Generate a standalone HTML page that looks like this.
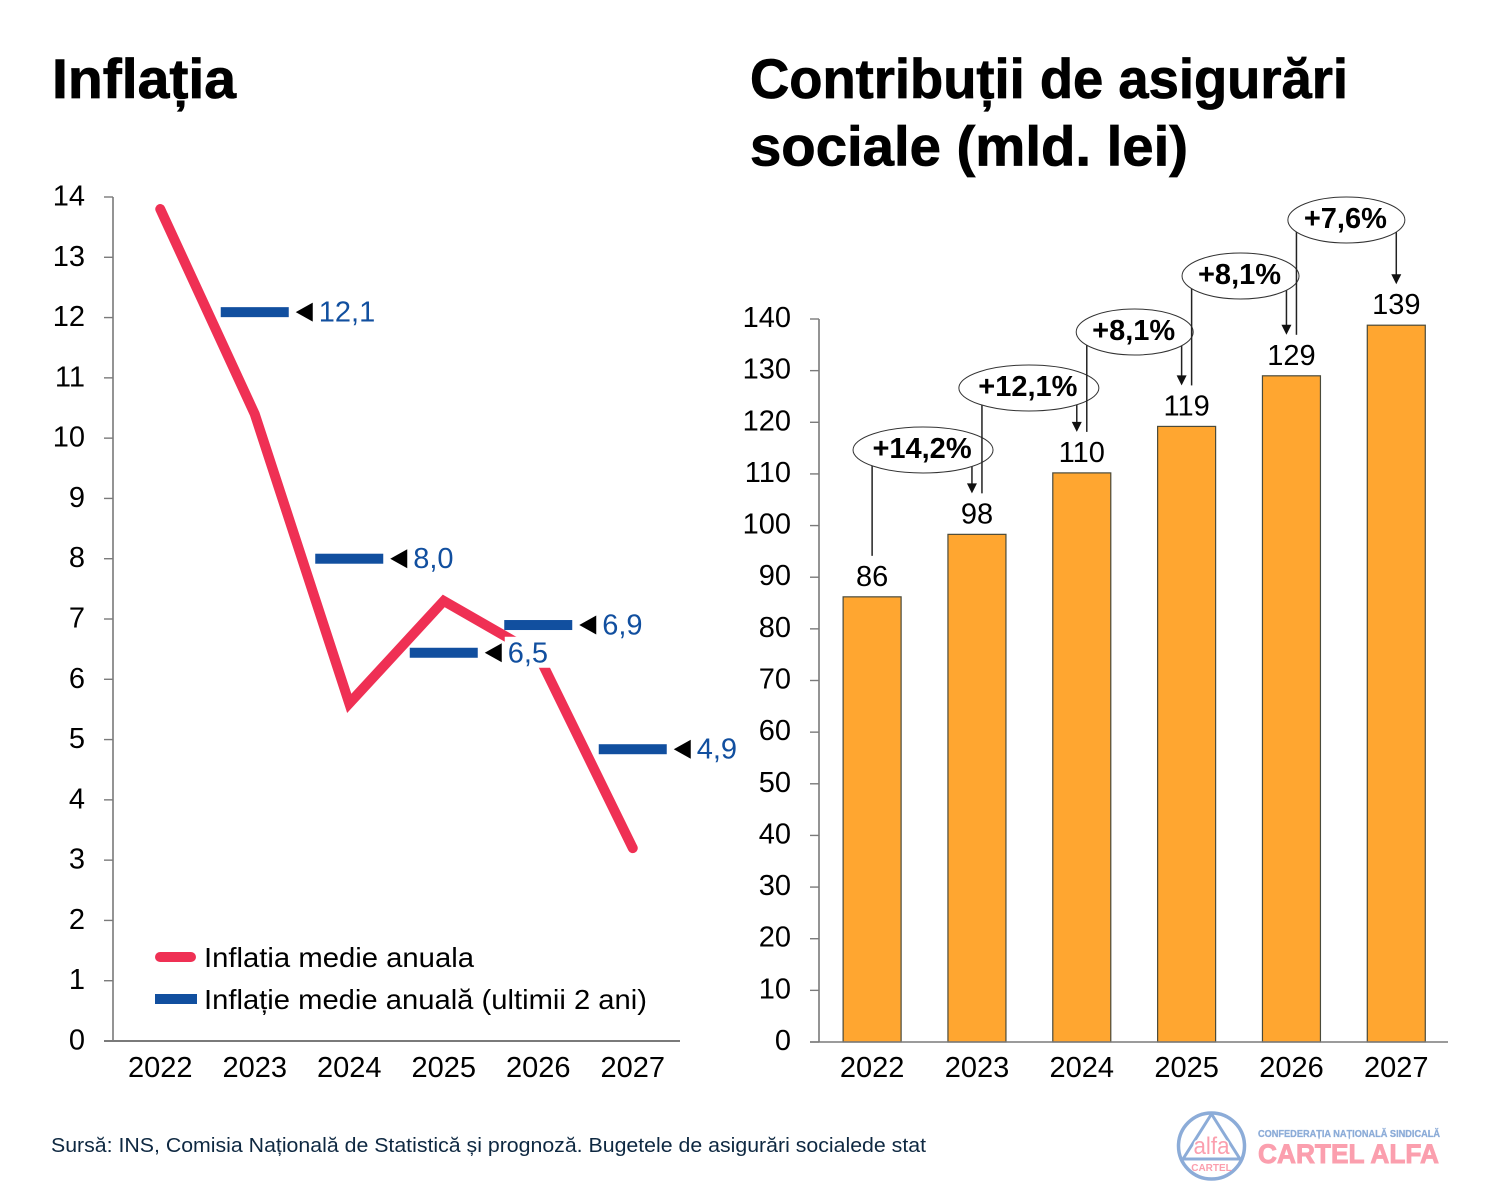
<!DOCTYPE html>
<html lang="ro">
<head>
<meta charset="utf-8">
<title>Inflația și contribuții de asigurări sociale</title>
<style>
html,body{margin:0;padding:0;background:#fff}
svg{display:block}
text{font-family:"Liberation Sans",sans-serif}
</style>
</head>
<body>
<svg id="canvas" xmlns="http://www.w3.org/2000/svg" width="1500" height="1200" viewBox="0 0 1500 1200">
  <rect width="1500" height="1200" fill="#fff"/>
  <text x="52" y="98" font-size="56" font-weight="700" stroke="#000" stroke-width="0.8" textLength="184" lengthAdjust="spacingAndGlyphs">Inflația</text>
  <text x="750" y="98" font-size="56" font-weight="700" stroke="#000" stroke-width="0.8" textLength="598" lengthAdjust="spacingAndGlyphs">Contribuții de asigurări</text>
  <text x="750" y="165.5" font-size="56" font-weight="700" stroke="#000" stroke-width="0.8" textLength="438" lengthAdjust="spacingAndGlyphs">sociale (mld. lei)</text>
  <g id="left-chart"></g>
  <g id="right-chart"></g>

  <g>
    <line x1="160" y1="957" x2="191" y2="957" stroke="#ef3054" stroke-width="10" stroke-linecap="round"/>
    <text x="204" y="967" font-size="28" textLength="270" lengthAdjust="spacingAndGlyphs">Inflatia medie anuala</text>
    <rect x="155" y="994" width="42" height="10" fill="#114f9f"/>
    <text x="204" y="1009" font-size="28" textLength="443" lengthAdjust="spacingAndGlyphs">Inflație medie anuală (ultimii 2 ani)</text>
  </g>

  <text x="51" y="1152" font-size="20" fill="#0e2841" textLength="875" lengthAdjust="spacingAndGlyphs">Sursă: INS, Comisia Națională de Statistică și prognoză. Bugetele de asigurări socialede stat</text>

  <g>
    <circle cx="1211.5" cy="1146" r="33" fill="none" stroke="#8cacd8" stroke-width="3.5"/>
    <path d="M1211.5 1114 L1183 1159 L1240 1159 Z" fill="none" stroke="#8cacd8" stroke-width="3" stroke-linejoin="round"/>
    <text x="1211.5" y="1154" font-size="24" fill="#fb9fae" text-anchor="middle" textLength="36" lengthAdjust="spacingAndGlyphs" style="paint-order:stroke" stroke="#fff" stroke-width="3">alfa</text>
    <text x="1211.5" y="1171" font-size="10" font-weight="700" fill="#fb9fae" text-anchor="middle">CARTEL</text>
    <text x="1258" y="1137" font-size="10" font-weight="700" fill="#8cacd8" stroke="#8cacd8" stroke-width="0.3" textLength="182" lengthAdjust="spacingAndGlyphs">CONFEDERAȚIA NAȚIONALĂ SINDICALĂ</text>
    <text x="1258" y="1163" font-size="27" font-weight="700" fill="#fb9fae" stroke="#fb9fae" stroke-width="0.9" textLength="181" lengthAdjust="spacingAndGlyphs">CARTEL ALFA</text>
  </g>
</svg>
<script>
const years = ['2022', '2023', '2024', '2025', '2026', '2027'];
const inflationYearly = [13.8, 10.4, 5.6, 7.3, 6.4, 3.2];
const inflationTwoYear = [null, 12.09, 8.0, 6.44, 6.9, 4.84];
const inflationTwoYearLabels = ['', '12,1', '8,0', '6,5', '6,9', '4,9'];
const inflationTicks = [0, 1, 2, 3, 4, 5, 6, 7, 8, 9, 10, 11, 12, 13, 14];
const contributions = [86.2, 98.3, 110.2, 119.2, 129, 138.8];
const contributionLabels = ['86', '98', '110', '119', '129', '139'];
const growthLabels = ['+14,2%', '+12,1%', '+8,1%', '+8,1%', '+7,6%'];
const contributionTicks = [0, 10, 20, 30, 40, 50, 60, 70, 80, 90, 100, 110, 120, 130, 140];

const NS = 'http://www.w3.org/2000/svg';
function mk(parent, tag, attrs, content) {
  const e = document.createElementNS(NS, tag);
  for (const k in attrs) e.setAttribute(k, attrs[k]);
  if (content !== undefined) e.textContent = content;
  parent.appendChild(e);
  return e;
}

/* ---------- left chart ---------- */
const L = document.getElementById('left-chart');
const lx = i => 113 + (680 - 113) * (i + 0.5) / years.length;
const ly = v => 1041 - v * (1041 - 197) / 14;
let el;

el = mk(L, 'line', {x1: 113, y1: 197, x2: 113, y2: 1041, stroke: '#7a7a7a', 'stroke-width': 1.6});


el = mk(L, 'line', {x1: 104, y1: 1041, x2: 680, y2: 1041, stroke: '#7a7a7a', 'stroke-width': 2});



inflationTicks.forEach(t => {
  el = mk(L, 'line', {x1: 104, y1: ly(t), x2: 113, y2: ly(t), stroke: '#7a7a7a', 'stroke-width': 1.4});
  
  
  el = mk(L, 'text', {x: 85, y: ly(t) + 8.5, 'font-size': 29, 'text-anchor': 'end', fill: '#000'}, String(t));
  
  
});
years.forEach((y, i) => {
  el = mk(L, 'text', {x: lx(i), y: 1077, 'font-size': 29, 'text-anchor': 'middle', fill: '#000'}, y);
  
  
});

el = mk(L, 'polyline', {
  points: inflationYearly.map((v, i) => lx(i) + ',' + ly(v)).join(' '),
  fill: 'none', stroke: '#ef3054', 'stroke-width': 10,
  'stroke-linejoin': 'miter', 'stroke-linecap': 'round'
});



/* white box behind the "6,5" label covers the line, as in the source */
inflationTwoYear.forEach((v, i) => {
  if (v === null) return;
  if (inflationTwoYearLabels[i] === '6,5') {
    el = mk(L, 'rect', {x: lx(i) + 61, y: ly(v) - 16, width: 48, height: 31, fill: '#fff'});
    
    
  }
});
inflationTwoYear.forEach((v, i) => {
  if (v === null) return;
  const x = lx(i), y = ly(v);
  el = mk(L, 'rect', {x: x - 34, y: y - 5, width: 68, height: 10, fill: '#114f9f'});
  
  
  el = mk(L, 'path', {d: `M${x + 41} ${y}L${x + 58} ${y - 9.5}L${x + 58} ${y + 9.5}Z`, fill: '#000'});
  
  
  el = mk(L, 'text', {x: x + 64, y: y + 9.5, 'font-size': 29, fill: '#114f9f'}, inflationTwoYearLabels[i]);
  
  
});

/* ---------- right chart ---------- */
const R = document.getElementById('right-chart');
const rx = i => 819.7 + (1448 - 819) * (i + 0.5) / years.length;
const ry = v => 1042 - v * (1042 - 319) / 140;

el = mk(R, 'line', {x1: 819, y1: 319, x2: 819, y2: 1042, stroke: '#7a7a7a', 'stroke-width': 1.6});


contributionTicks.forEach(t => {
  el = mk(R, 'line', {x1: 810, y1: ry(t), x2: 819, y2: ry(t), stroke: '#7a7a7a', 'stroke-width': 1.4});
  
  
  el = mk(R, 'text', {x: 791, y: ry(t) + 8, 'font-size': 29, 'text-anchor': 'end', fill: '#000'}, String(t));
  
  
});

contributions.forEach((v, i) => {
  const x = rx(i);
  el = mk(R, 'rect', {x: x - 29, y: ry(v), width: 58, height: 1042 - ry(v), fill: '#ffa630', stroke: '#4a4a3a', 'stroke-width': 1.2});
  
  
  el = mk(R, 'text', {x: x, y: ry(v) - 11, 'font-size': 29, 'text-anchor': 'middle', fill: '#000'}, contributionLabels[i]);
  
  
  el = mk(R, 'text', {x: x, y: 1077, 'font-size': 29, 'text-anchor': 'middle', fill: '#000'}, years[i]);
  
  
});

el = mk(R, 'line', {x1: 810, y1: 1042, x2: 1448, y2: 1042, stroke: '#7a7a7a', 'stroke-width': 1.6});



growthLabels.forEach((label, i) => {
  const cx = (rx(i) + rx(i + 1)) / 2 - 1.5 + i;
  const cy = i === 0 ? 450 : 388 - (i - 1) * 56;
  const w = label.length > 5 ? 70 : 58.5;
  const startX = rx(i) + (i === 0 ? 0 : 5);
  const endX = rx(i + 1) + (i === growthLabels.length - 1 ? 0 : -5);
  const startBottom = ry(contributions[i]) - 41;
  const endBottom = ry(contributions[i + 1]) - 41;

  el = mk(R, 'line', {x1: startX, y1: cy, x2: startX, y2: startBottom, stroke: '#222', 'stroke-width': 1.5});
  
  
  el = mk(R, 'line', {x1: endX, y1: cy, x2: endX, y2: endBottom - 8, stroke: '#222', 'stroke-width': 1.5});
  
  
  el = mk(R, 'path', {d: `M${endX - 5} ${endBottom - 10}L${endX + 5} ${endBottom - 10}L${endX} ${endBottom}Z`, fill: '#111'});
  
  
  el = mk(R, 'ellipse', {cx: cx, cy: cy, rx: w, ry: 23, fill: '#fff', stroke: '#333', 'stroke-width': 1});
  
  
  el = mk(R, 'text', {x: cx - 1, y: cy + 8, 'font-size': 29, 'font-weight': 700, 'text-anchor': 'middle', fill: '#000'}, label);
  
  
});
</script>
</body>
</html>
